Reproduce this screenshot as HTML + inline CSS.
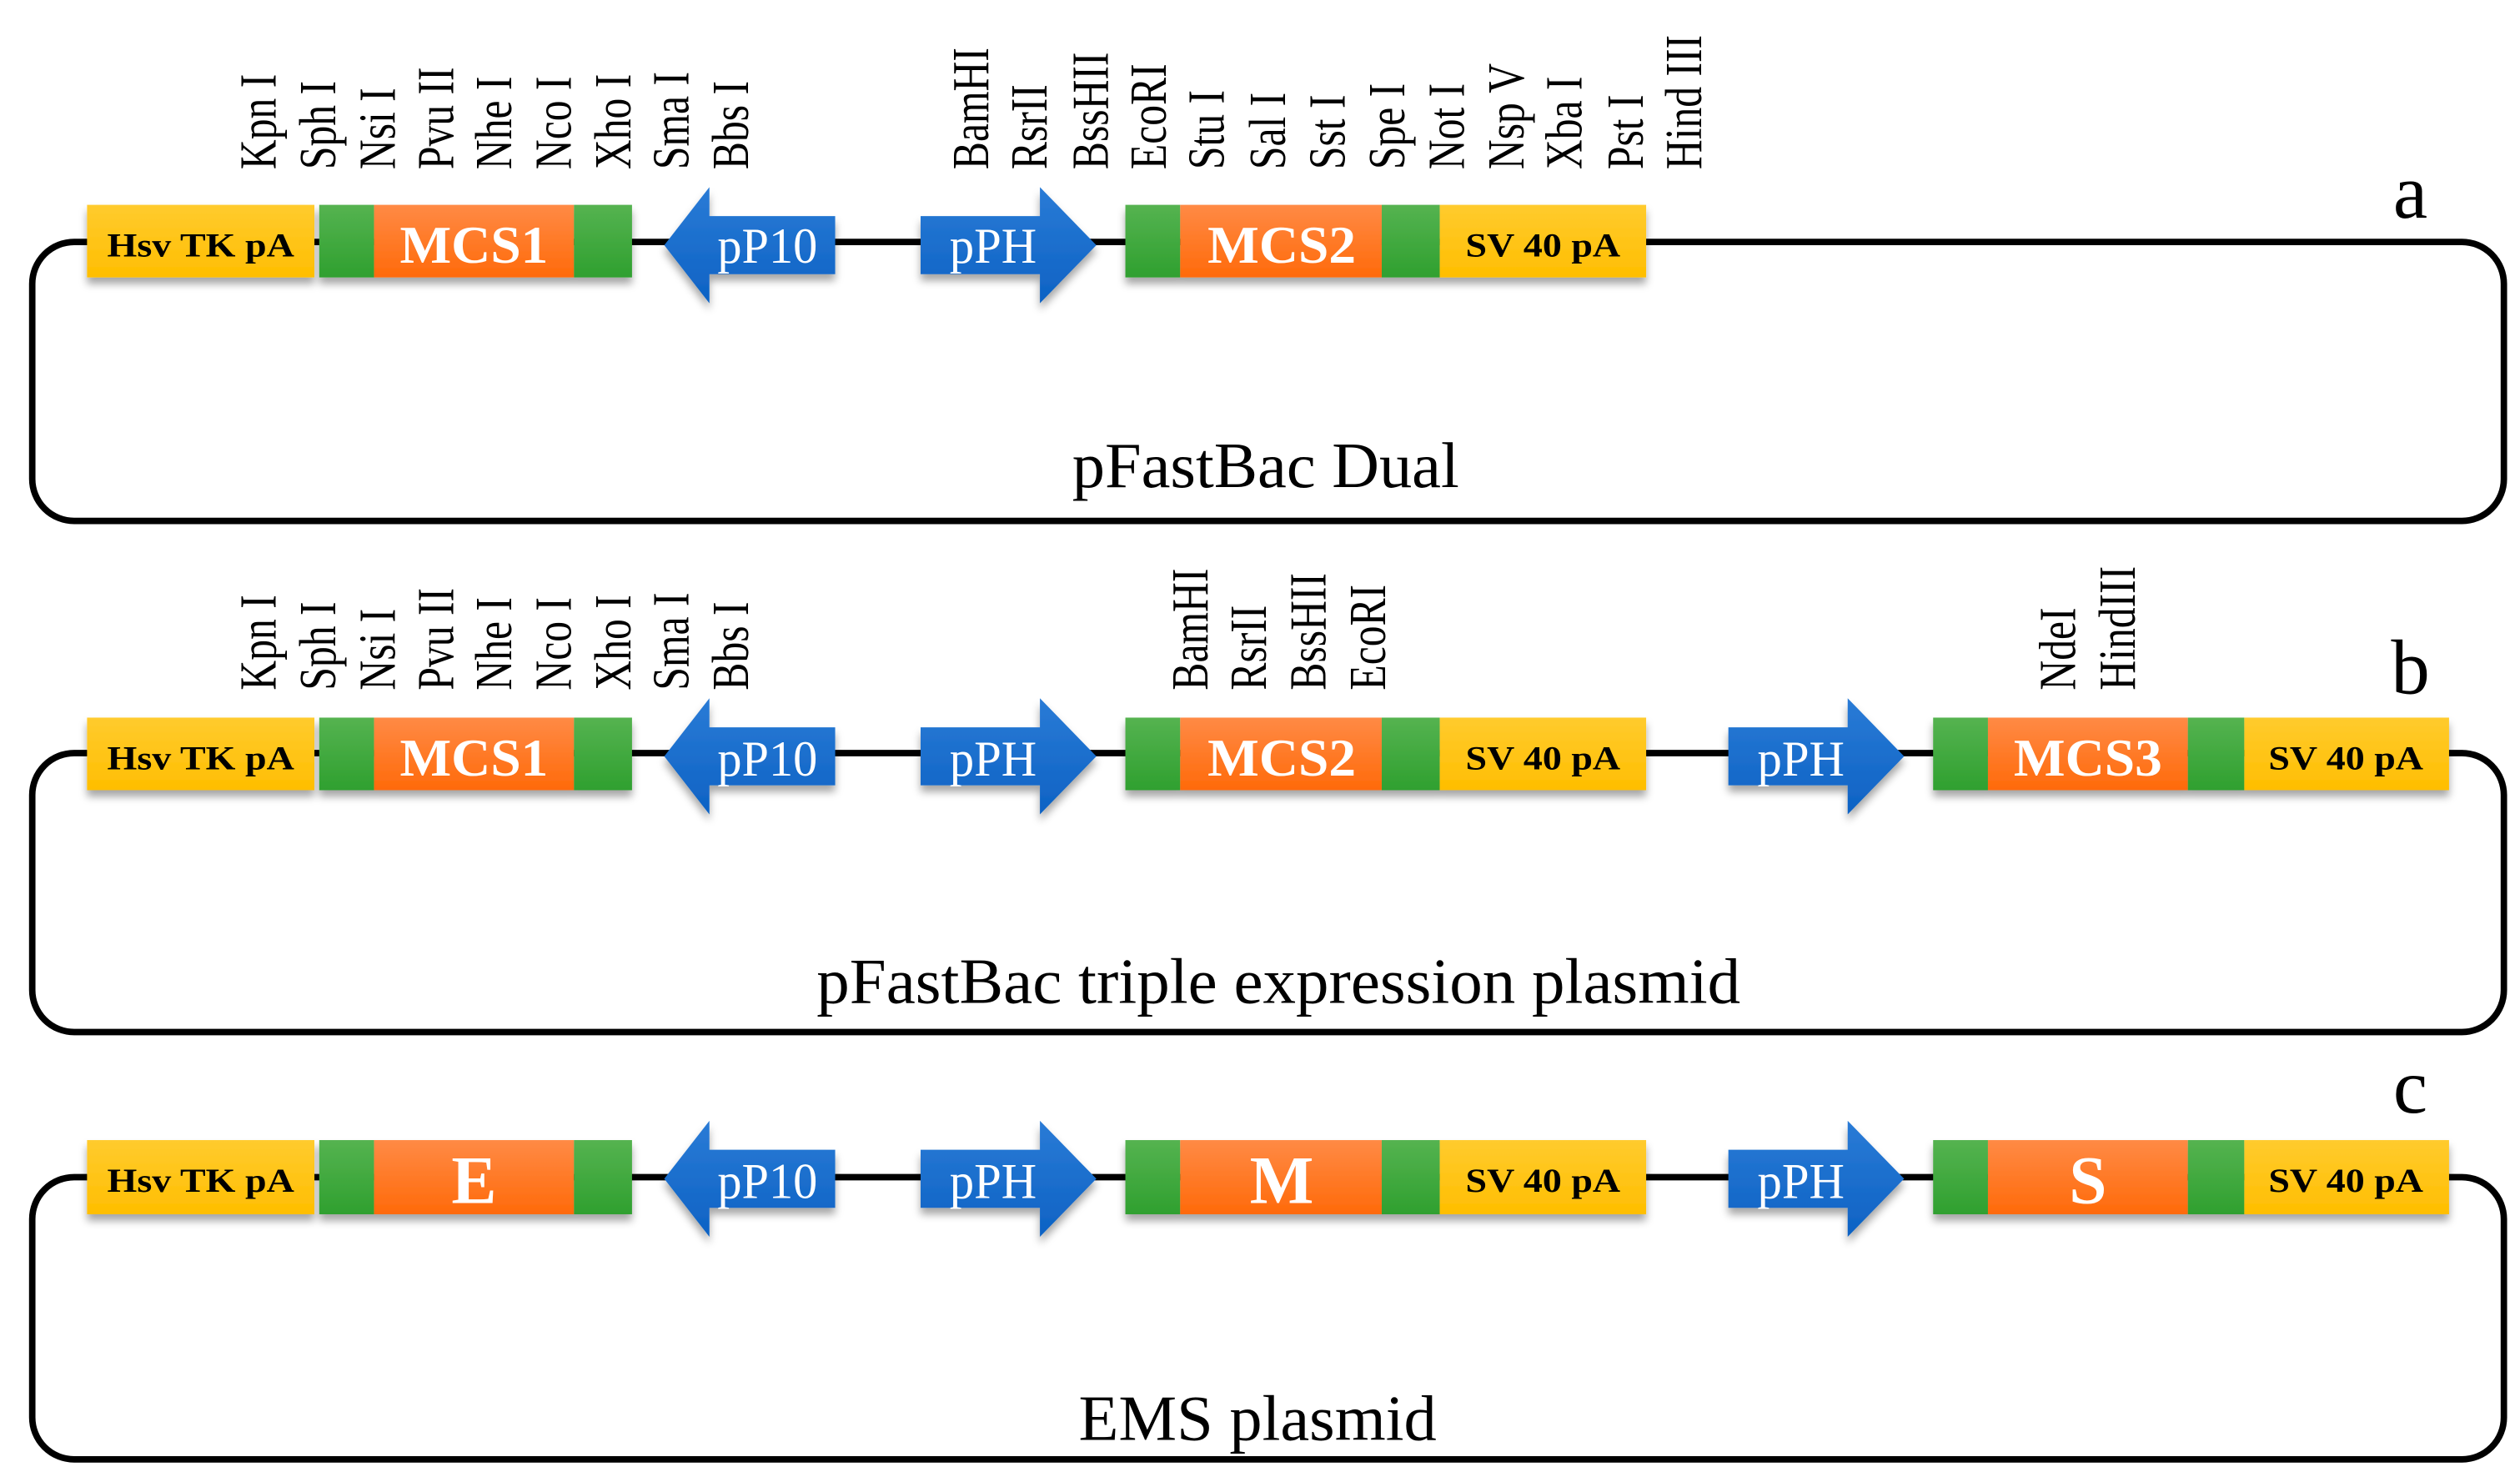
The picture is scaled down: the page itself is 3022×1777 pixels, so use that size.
<!DOCTYPE html>
<html><head><meta charset="utf-8"><style>html,body{margin:0;padding:0;background:#fff}svg{display:block}</style></head><body>
<svg width="3022" height="1777" viewBox="0 0 1563 919" xmlns="http://www.w3.org/2000/svg" font-family="Liberation Serif, serif">
<defs>
<filter id="sh" x="-10%" y="-20%" width="120%" height="160%"><feDropShadow dx="0" dy="4" stdDeviation="2.5" flood-color="#000" flood-opacity="0.35"/></filter>
<linearGradient id="gy" x1="0" y1="0" x2="0" y2="1"><stop offset="0" stop-color="#FFCB2E"/><stop offset="1" stop-color="#FFBE00"/></linearGradient>
<linearGradient id="go" x1="0" y1="0" x2="0" y2="1"><stop offset="0" stop-color="#FF8A45"/><stop offset="1" stop-color="#FF6A0A"/></linearGradient>
<linearGradient id="gg" x1="0" y1="0" x2="0" y2="1"><stop offset="0" stop-color="#55B350"/><stop offset="1" stop-color="#2FA02F"/></linearGradient>
<linearGradient id="gb" x1="0" y1="0" x2="0" y2="1"><stop offset="0" stop-color="#2A7BD6"/><stop offset="1" stop-color="#0D62C4"/></linearGradient>
<g id="pp10" filter="url(#sh)"><polygon points="412,0 440,-36 440,-18 518,-18 518,18 440,18 440,36" fill="url(#gb)"/></g>
<g id="pph" filter="url(#sh)"><polygon points="0,-18 74,-18 74,-36 109,0 74,36 74,18 0,18" fill="url(#gb)"/></g>
</defs>
<g fill="none" stroke="#000" stroke-width="4">
<rect x="20" y="150" width="1533" height="173" rx="26"/>
<rect x="20" y="467" width="1533" height="173" rx="26"/>
<rect x="20" y="730" width="1533" height="175" rx="26"/>
</g>

<!-- Panel a -->
<g>
<g filter="url(#sh)">
<rect x="54" y="127" width="141" height="45" fill="url(#gy)"/>
<rect x="198" y="127" width="34" height="45" fill="url(#gg)"/><rect x="232" y="127" width="124" height="45" fill="url(#go)"/><rect x="356" y="127" width="36" height="45" fill="url(#gg)"/>
<rect x="698" y="127" width="34" height="45" fill="url(#gg)"/><rect x="732" y="127" width="125" height="45" fill="url(#go)"/><rect x="857" y="127" width="36" height="45" fill="url(#gg)"/>
<rect x="893" y="127" width="128" height="45" fill="url(#gy)"/>
</g>
<use href="#pp10" transform="translate(0,152)"/>
<use href="#pph" transform="translate(571,152)"/>
<text x="124.5" y="159" font-size="21" font-weight="bold" text-anchor="middle" textLength="116" lengthAdjust="spacingAndGlyphs">Hsv TK pA</text>
<text x="294" y="163" font-size="33" font-weight="bold" fill="#fff" text-anchor="middle" textLength="92" lengthAdjust="spacingAndGlyphs">MCS1</text>
<text x="476" y="163" font-size="31" fill="#fff" text-anchor="middle" textLength="62" lengthAdjust="spacingAndGlyphs">pP10</text>
<text x="616" y="163" font-size="31" fill="#fff" text-anchor="middle" textLength="54" lengthAdjust="spacingAndGlyphs">pPH</text>
<text x="795" y="163" font-size="33" font-weight="bold" fill="#fff" text-anchor="middle" textLength="92" lengthAdjust="spacingAndGlyphs">MCS2</text>
<text x="957" y="159" font-size="21" font-weight="bold" text-anchor="middle" textLength="96" lengthAdjust="spacingAndGlyphs">SV 40 pA</text>
</g>
<g font-size="27">
<text transform="translate(171,105) rotate(-90) scale(0.95,1.2)">Kpn I</text>
<text transform="translate(208,105) rotate(-90) scale(0.95,1.2)">Sph I</text>
<text transform="translate(245,105) rotate(-90) scale(0.95,1.2)">Nsi I</text>
<text transform="translate(281,105) rotate(-90) scale(0.95,1.2)">Pvu II</text>
<text transform="translate(317,105) rotate(-90) scale(0.95,1.2)">Nhe I</text>
<text transform="translate(354,105) rotate(-90) scale(0.95,1.2)">Nco I</text>
<text transform="translate(391,105) rotate(-90) scale(0.95,1.2)">Xho I</text>
<text transform="translate(427,105) rotate(-90) scale(0.95,1.2)">Sma I</text>
<text transform="translate(464,105) rotate(-90) scale(0.95,1.2)">Bbs I</text>
<text transform="translate(613,105) rotate(-90) scale(0.95,1.2)">BamHI</text>
<text transform="translate(649,105) rotate(-90) scale(0.95,1.2)">RsrII</text>
<text transform="translate(687,105) rotate(-90) scale(0.95,1.2)">BssHII</text>
<text transform="translate(723,105) rotate(-90) scale(0.95,1.2)">EcoRI</text>
<text transform="translate(759,105) rotate(-90) scale(0.95,1.2)">Stu I</text>
<text transform="translate(797,105) rotate(-90) scale(0.95,1.2)">Sal I</text>
<text transform="translate(834,105) rotate(-90) scale(0.95,1.2)">Sst I</text>
<text transform="translate(871,105) rotate(-90) scale(0.95,1.2)">Spe I</text>
<text transform="translate(908,105) rotate(-90) scale(0.95,1.2)">Not I</text>
<text transform="translate(945,105) rotate(-90) scale(0.95,1.2)">Nsp V</text>
<text transform="translate(981,105) rotate(-90) scale(0.95,1.2)">Xba I</text>
<text transform="translate(1019,105) rotate(-90) scale(0.95,1.2)">Pst I</text>
<text transform="translate(1055,105) rotate(-90) scale(0.95,1.2)">Hind III</text>
</g>
<text x="1495" y="135" font-size="48" text-anchor="middle">a</text>
<text x="785" y="302" font-size="40" text-anchor="middle" textLength="240" lengthAdjust="spacingAndGlyphs">pFastBac Dual</text>

<!-- Panel b -->
<g>
<g filter="url(#sh)">
<rect x="54" y="445" width="141" height="45" fill="url(#gy)"/>
<rect x="198" y="445" width="34" height="45" fill="url(#gg)"/><rect x="232" y="445" width="124" height="45" fill="url(#go)"/><rect x="356" y="445" width="36" height="45" fill="url(#gg)"/>
<rect x="698" y="445" width="34" height="45" fill="url(#gg)"/><rect x="732" y="445" width="125" height="45" fill="url(#go)"/><rect x="857" y="445" width="36" height="45" fill="url(#gg)"/>
<rect x="893" y="445" width="128" height="45" fill="url(#gy)"/>
<rect x="1199" y="445" width="34" height="45" fill="url(#gg)"/><rect x="1233" y="445" width="124" height="45" fill="url(#go)"/><rect x="1357" y="445" width="35" height="45" fill="url(#gg)"/>
<rect x="1392" y="445" width="127" height="45" fill="url(#gy)"/>
</g>
<use href="#pp10" transform="translate(0,469)"/>
<use href="#pph" transform="translate(571,469)"/>
<use href="#pph" transform="translate(1072,469)"/>
<text x="124.5" y="477" font-size="21" font-weight="bold" text-anchor="middle" textLength="116" lengthAdjust="spacingAndGlyphs">Hsv TK pA</text>
<text x="294" y="481" font-size="33" font-weight="bold" fill="#fff" text-anchor="middle" textLength="92" lengthAdjust="spacingAndGlyphs">MCS1</text>
<text x="476" y="481" font-size="31" fill="#fff" text-anchor="middle" textLength="62" lengthAdjust="spacingAndGlyphs">pP10</text>
<text x="616" y="481" font-size="31" fill="#fff" text-anchor="middle" textLength="54" lengthAdjust="spacingAndGlyphs">pPH</text>
<text x="795" y="481" font-size="33" font-weight="bold" fill="#fff" text-anchor="middle" textLength="92" lengthAdjust="spacingAndGlyphs">MCS2</text>
<text x="957" y="477" font-size="21" font-weight="bold" text-anchor="middle" textLength="96" lengthAdjust="spacingAndGlyphs">SV 40 pA</text>
<text x="1117" y="481" font-size="31" fill="#fff" text-anchor="middle" textLength="54" lengthAdjust="spacingAndGlyphs">pPH</text>
<text x="1295" y="481" font-size="33" font-weight="bold" fill="#fff" text-anchor="middle" textLength="92" lengthAdjust="spacingAndGlyphs">MCS3</text>
<text x="1455" y="477" font-size="21" font-weight="bold" text-anchor="middle" textLength="96" lengthAdjust="spacingAndGlyphs">SV 40 pA</text>
</g>
<g font-size="27">
<text transform="translate(171,428) rotate(-90) scale(0.95,1.2)">Kpn I</text>
<text transform="translate(208,428) rotate(-90) scale(0.95,1.2)">Sph I</text>
<text transform="translate(245,428) rotate(-90) scale(0.95,1.2)">Nsi I</text>
<text transform="translate(281,428) rotate(-90) scale(0.95,1.2)">Pvu II</text>
<text transform="translate(317,428) rotate(-90) scale(0.95,1.2)">Nhe I</text>
<text transform="translate(354,428) rotate(-90) scale(0.95,1.2)">Nco I</text>
<text transform="translate(391,428) rotate(-90) scale(0.95,1.2)">Xho I</text>
<text transform="translate(427,428) rotate(-90) scale(0.95,1.2)">Sma I</text>
<text transform="translate(464,428) rotate(-90) scale(0.95,1.2)">Bbs I</text>
<text transform="translate(749,428) rotate(-90) scale(0.95,1.2)">BamHI</text>
<text transform="translate(785,428) rotate(-90) scale(0.95,1.2)">RsrII</text>
<text transform="translate(822,428) rotate(-90) scale(0.95,1.2)">BssHII</text>
<text transform="translate(859,428) rotate(-90) scale(0.95,1.2)">EcoRI</text>
<text transform="translate(1287,428) rotate(-90) scale(0.95,1.2)">NdeI</text>
<text transform="translate(1324,428) rotate(-90) scale(0.95,1.2)">HindIII</text>
</g>
<text x="1495" y="430" font-size="48" text-anchor="middle">b</text>
<text x="793" y="622" font-size="40" text-anchor="middle" textLength="573" lengthAdjust="spacingAndGlyphs">pFastBac triple expression plasmid</text>

<!-- Panel c -->
<g>
<g filter="url(#sh)">
<rect x="54" y="707" width="141" height="46" fill="url(#gy)"/>
<rect x="198" y="707" width="34" height="46" fill="url(#gg)"/><rect x="232" y="707" width="124" height="46" fill="url(#go)"/><rect x="356" y="707" width="36" height="46" fill="url(#gg)"/>
<rect x="698" y="707" width="34" height="46" fill="url(#gg)"/><rect x="732" y="707" width="125" height="46" fill="url(#go)"/><rect x="857" y="707" width="36" height="46" fill="url(#gg)"/>
<rect x="893" y="707" width="128" height="46" fill="url(#gy)"/>
<rect x="1199" y="707" width="34" height="46" fill="url(#gg)"/><rect x="1233" y="707" width="124" height="46" fill="url(#go)"/><rect x="1357" y="707" width="35" height="46" fill="url(#gg)"/>
<rect x="1392" y="707" width="127" height="46" fill="url(#gy)"/>
</g>
<use href="#pp10" transform="translate(0,731)"/>
<use href="#pph" transform="translate(571,731)"/>
<use href="#pph" transform="translate(1072,731)"/>
<text x="124.5" y="739" font-size="21" font-weight="bold" text-anchor="middle" textLength="116" lengthAdjust="spacingAndGlyphs">Hsv TK pA</text>
<text x="294" y="746" font-size="42" font-weight="bold" fill="#fff" text-anchor="middle">E</text>
<text x="476" y="743" font-size="31" fill="#fff" text-anchor="middle" textLength="62" lengthAdjust="spacingAndGlyphs">pP10</text>
<text x="616" y="743" font-size="31" fill="#fff" text-anchor="middle" textLength="54" lengthAdjust="spacingAndGlyphs">pPH</text>
<text x="795" y="746" font-size="42" font-weight="bold" fill="#fff" text-anchor="middle">M</text>
<text x="957" y="739" font-size="21" font-weight="bold" text-anchor="middle" textLength="96" lengthAdjust="spacingAndGlyphs">SV 40 pA</text>
<text x="1117" y="743" font-size="31" fill="#fff" text-anchor="middle" textLength="54" lengthAdjust="spacingAndGlyphs">pPH</text>
<text x="1295" y="746" font-size="42" font-weight="bold" fill="#fff" text-anchor="middle">S</text>
<text x="1455" y="739" font-size="21" font-weight="bold" text-anchor="middle" textLength="96" lengthAdjust="spacingAndGlyphs">SV 40 pA</text>
</g>
<text x="1495" y="690" font-size="48" text-anchor="middle">c</text>
<text x="780" y="893" font-size="40" text-anchor="middle" textLength="222" lengthAdjust="spacingAndGlyphs">EMS plasmid</text>
</svg>
</body></html>
